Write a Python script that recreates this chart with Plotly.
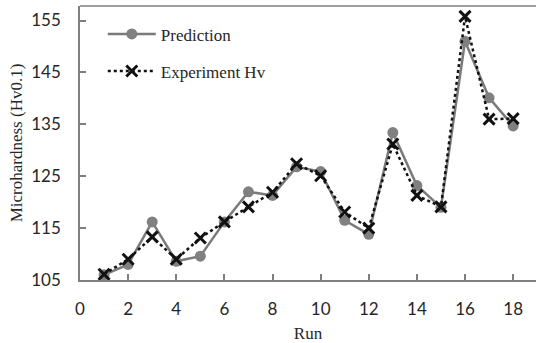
import plotly.graph_objects as go

runs = list(range(1, 19))
prediction = [106.0, 108.0, 116.2, 108.6, 109.6, 116.2, 122.0, 121.3, 126.8,
              125.9, 116.5, 113.8, 133.4, 123.2, 119.0, 151.0, 140.1, 134.7]
experiment = [106.1, 109.0, 113.3, 109.0, 113.1, 116.2, 119.1, 121.9, 127.4,
              125.1, 118.1, 115.0, 131.2, 121.3, 119.1, 155.8, 136.0, 136.1]

x_ticks = list(range(0, 19, 2))
y_ticks = [105, 115, 125, 135, 145, 155]

serif = "Liberation Serif, Times New Roman, serif"
sans = "Lato, Calibri, sans-serif"
text_color = "#262626"

fig = go.Figure()
fig.add_trace(go.Scatter(
    x=runs, y=prediction, name="Prediction", mode="lines+markers",
    line=dict(color="#7a7a7a", width=2.5),
    marker=dict(symbol="circle", size=11, color="#808080"),
    legendgroup="a",
))
fig.add_trace(go.Scatter(
    x=runs, y=experiment, name="Experiment Hv", mode="lines+markers",
    line=dict(color="#111111", width=2.5, dash="dot"),
    marker=dict(symbol="x-thin", size=11, color="#111111",
                line=dict(color="#111111", width=3)),
    legendgroup="b",
))

fig.update_layout(
    width=536, height=343,
    margin=dict(l=80, r=0, t=6, b=63),
    paper_bgcolor="white", plot_bgcolor="white",
    showlegend=True,
    legend=dict(x=0.05, y=0.962, xanchor="left", yanchor="top",
                font=dict(family=serif, size=17, color=text_color),
                bgcolor="rgba(0,0,0,0)", tracegroupgap=12,
                traceorder="grouped", itemwidth=48),
    xaxis=dict(range=[0, 18.95], tickvals=x_ticks, ticks="inside", ticklen=6,
               tickcolor="#808080", tickwidth=1.5, showline=True,
               linecolor="#808080", linewidth=1.5, showgrid=False, zeroline=False,
               ticklabelstandoff=13,
               tickfont=dict(family=sans, size=17, color=text_color),
               title=dict(text="Run", font=dict(family=serif, size=17, color=text_color),
                          standoff=12)),
    yaxis=dict(range=[105, 157.8], tickvals=y_ticks, ticks="inside", ticklen=6,
               tickcolor="#808080", tickwidth=1.5, showline=True,
               linecolor="#808080", linewidth=1.5, showgrid=False, zeroline=False,
               ticklabelstandoff=14,
               tickfont=dict(family=sans, size=17, color=text_color),
               title=dict(text="Microhardness (Hv0.1)",
                          font=dict(family=serif, size=17, color=text_color),
                          standoff=4)),
    shapes=[dict(type="line", xref="paper", yref="paper", x0=0, x1=1, y0=1, y1=1,
                 line=dict(color="#808080", width=1.5))],
)

fig.write_html("out.html")
